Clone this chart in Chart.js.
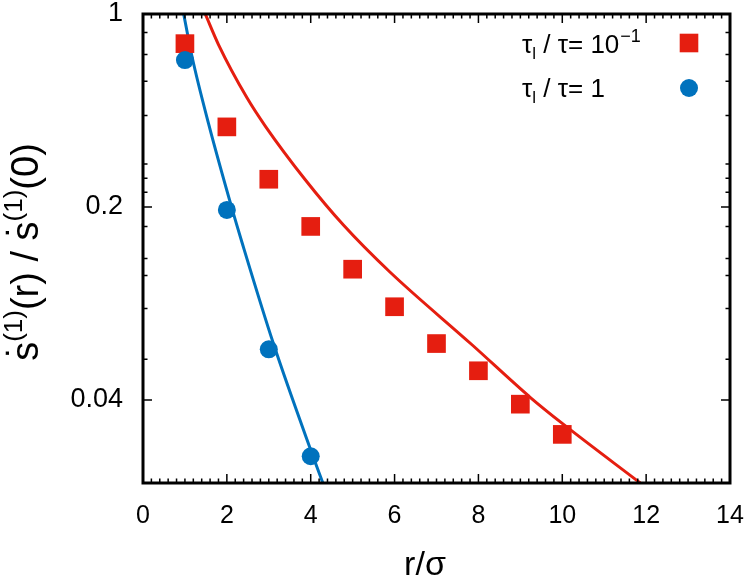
<!DOCTYPE html>
<html><head><meta charset="utf-8">
<script src="https://cdn.jsdelivr.net/npm/chart.js@4.4.0/dist/chart.umd.min.js"></script>
<style>html,body{margin:0;padding:0;background:#fff;}#wrap{width:747px;height:585px;position:relative;}</style>
</head><body><div id="wrap"><canvas id="c"></canvas></div>
<script>
// ---- data ----
const rSquares = [1, 2, 3, 4, 5, 6, 7, 8, 9, 10];
const squareValues = [0.781, 0.39, 0.252, 0.17, 0.119, 0.087, 0.064, 0.051, 0.0386, 0.030];
const rCircles = [1, 2, 3, 4];
const circleValues = [0.681, 0.195, 0.061, 0.025];
const redCurveR = [1.485, 1.80, 2.48, 2.92, 3.87, 4.78, 5.895, 7.84, 9.24, 10.03, 11.86];
const redCurveV = [1.0, 0.775, 0.497, 0.392, 0.251, 0.172, 0.116, 0.0635, 0.0408, 0.0326, 0.02];
const blueCurveR = [0.97, 1.17, 1.565, 2.12, 2.36, 3.11, 4.03, 4.29];
const blueCurveV = [1.0, 0.70, 0.40, 0.198, 0.149, 0.064, 0.0256, 0.02];
// ---- axes ----
const xMajorTicks = [0, 2, 4, 6, 8, 10, 12, 14];
const xMinorStep = 0.2;
const yMajorTicks = [0.04, 0.2, 1];
const yMajorLabels = ['0.04', '0.2', '1'];
const yMinorTicks = [0.857, 0.714, 0.571, 0.429, 0.286, 0.254, 0.226, 0.17, 0.13, 0.113, 0.0857, 0.0562];
const legendLabels = [
  {main: 'τ', sub: 'l', rest: ' / τ= 10', sup: '−1'},
  {main: 'τ', sub: 'l', rest: ' / τ= 1', sup: ''}
];
const RED = '#e51e10', BLUE = '#0072bd';
const FONT = '"Liberation Sans", Arial, sans-serif';

const pts = (xs, ys) => xs.map((x, i) => ({x: x, y: ys[i]}));

const framePlugin = {
  id: 'frame',
  afterDatasetsDraw(chart) {
    const {ctx, chartArea: a, scales: {x, y}} = chart;
    ctx.save();
    ctx.strokeStyle = '#000';
    ctx.lineWidth = 1.5;
    ctx.beginPath();
    const minor = [];
    for (let i = 0; i <= Math.round(14 / xMinorStep); i++) minor.push(i * xMinorStep);
    minor.forEach(v => {
      const isMajor = xMajorTicks.some(m => Math.abs(m - v) < 1e-6);
      const L = isMajor ? 9 : 4.5;
      const px = x.getPixelForValue(v);
      ctx.moveTo(px, a.bottom); ctx.lineTo(px, a.bottom - L);
      ctx.moveTo(px, a.top); ctx.lineTo(px, a.top + L);
    });
    yMajorTicks.forEach(v => {
      const py = y.getPixelForValue(v);
      ctx.moveTo(a.left, py); ctx.lineTo(a.left + 9, py);
      ctx.moveTo(a.right, py); ctx.lineTo(a.right - 9, py);
    });
    yMinorTicks.forEach(v => {
      const py = y.getPixelForValue(v);
      ctx.moveTo(a.left, py); ctx.lineTo(a.left + 4.5, py);
      ctx.moveTo(a.right, py); ctx.lineTo(a.right - 4.5, py);
    });
    ctx.stroke();
    ctx.lineWidth = 3;
    ctx.strokeRect(a.left, a.top, a.right - a.left, a.bottom - a.top);
    ctx.restore();
  },
  afterDraw(chart) {
    const {ctx} = chart;
    ctx.save();
    ctx.fillStyle = '#000';
    ctx.textBaseline = 'alphabetic';
    // x title
    ctx.font = '34px ' + FONT;
    ctx.textAlign = 'center';
    ctx.fillText('r/σ', 425, 575);
    // y title (rotated)
    ctx.save();
    ctx.translate(38, 252);
    ctx.rotate(-Math.PI / 2);
    ctx.textAlign = 'left';
    const big = '38px ' + FONT, small = '26px ' + FONT;
    const pieces = [
      {t: 's', f: big, dy: 0, dot: true},
      {t: '(1)', f: small, dy: -16},
      {t: '(r) / ', f: big, dy: 0},
      {t: 's', f: big, dy: 0, dot: true},
      {t: '(1)', f: small, dy: -16},
      {t: '(0)', f: big, dy: 0}
    ];
    let total = 0;
    pieces.forEach(p => { ctx.font = p.f; p.w = ctx.measureText(p.t).width; total += p.w; });
    let cx = -total / 2;
    pieces.forEach(p => {
      ctx.font = p.f;
      ctx.fillText(p.t, cx, p.dy);
      if (p.dot) {
        ctx.textAlign = 'center';
        ctx.fillText('˙', cx + p.w / 2, -4);
        ctx.textAlign = 'left';
      }
      cx += p.w;
    });
    ctx.restore();
    // legend
    const rowsY = [53, 97];
    const markerX = 689;
    legendLabels.forEach((l, i) => {
      let lx = 522;
      const by = rowsY[i];
      ctx.textAlign = 'left';
      ctx.font = '26px ' + FONT;
      ctx.fillText(l.main, lx, by); lx += ctx.measureText(l.main).width;
      ctx.font = '17px ' + FONT;
      ctx.fillText(l.sub, lx, by + 6); lx += ctx.measureText(l.sub).width;
      ctx.font = '26px ' + FONT;
      ctx.fillText(l.rest, lx, by); lx += ctx.measureText(l.rest).width;
      if (l.sup) { ctx.font = '18px ' + FONT; ctx.fillText(l.sup, lx + 1, by - 11); }
    });
    ctx.fillStyle = RED;
    ctx.fillRect(markerX - 9.3, 43 - 9.3, 18.6, 18.6);
    ctx.fillStyle = BLUE;
    ctx.beginPath(); ctx.arc(markerX, 88, 9, 0, Math.PI * 2); ctx.fill();
    ctx.restore();
  }
};

new Chart(document.getElementById('c'), {
  type: 'scatter',
  data: {
    datasets: [
      {data: pts(redCurveR, redCurveV), showLine: true, borderColor: RED, borderWidth: 3,
       pointRadius: 0, cubicInterpolationMode: 'monotone', order: 3},
      {data: pts(blueCurveR, blueCurveV), showLine: true, borderColor: BLUE, borderWidth: 3,
       pointRadius: 0, cubicInterpolationMode: 'monotone', order: 2},
      {data: pts(rSquares, squareValues), pointStyle: 'rect', pointRadius: 13.2,
       backgroundColor: RED, borderColor: RED, borderWidth: 0, order: 1},
      {data: pts(rCircles, circleValues), pointStyle: 'circle', pointRadius: 9,
       backgroundColor: BLUE, borderColor: BLUE, borderWidth: 0, order: 0}
    ]
  },
  options: {
    responsive: true, maintainAspectRatio: false, animation: false,
    layout: {padding: {top: 14, right: 17, left: 0, bottom: 0}},
    plugins: {legend: {display: false}, tooltip: {enabled: false}},
    elements: {point: {hoverRadius: 0}},
    scales: {
      x: {
        type: 'linear', min: 0, max: 14,
        grid: {display: false, drawTicks: false}, border: {display: false},
        ticks: {stepSize: 2, color: '#000', padding: 18, font: {family: FONT, size: 25}, maxRotation: 0, autoSkip: false},
        afterBuildTicks: s => { s.ticks = xMajorTicks.map(v => ({value: v})); },
        afterFit: s => { s.height = 102; s.paddingLeft = 0; s.paddingRight = 0; }
      },
      y: {
        type: 'logarithmic', min: 0.02, max: 1,
        grid: {display: false, drawTicks: false}, border: {display: false},
        ticks: {color: '#000', padding: 20, font: {family: FONT, size: 27}, autoSkip: false,
          callback: v => { const i = yMajorTicks.findIndex(m => Math.abs(m - v) < 1e-9); return i >= 0 ? yMajorLabels[i] : ''; }},
        afterBuildTicks: s => { s.ticks = yMajorTicks.map(v => ({value: v})); },
        afterFit: s => { s.width = 143; s.paddingTop = 0; s.paddingBottom = 0; }
      }
    }
  },
  plugins: [framePlugin]
});
</script>
</body></html>
